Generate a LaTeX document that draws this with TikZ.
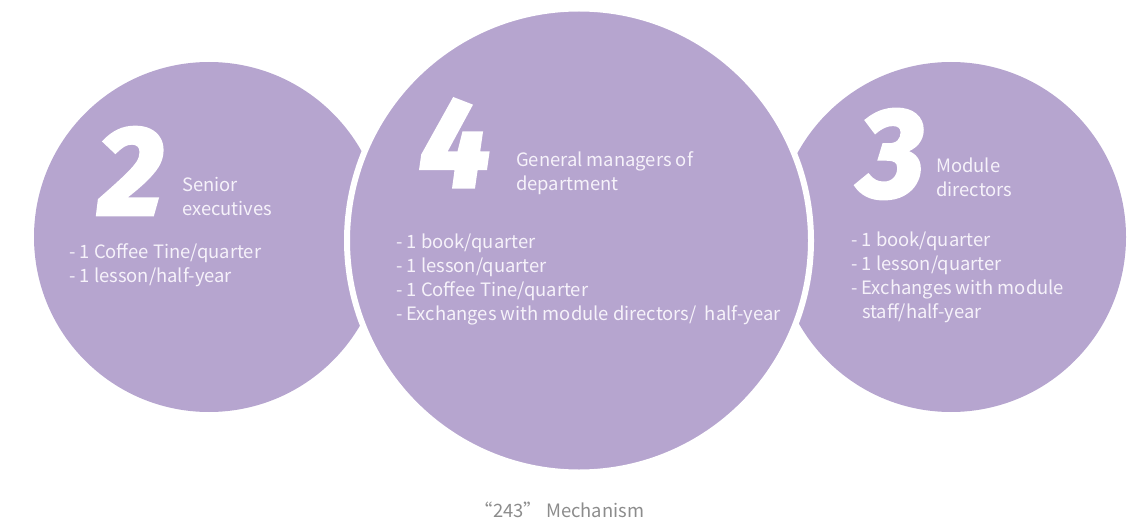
\documentclass[tikz,border=0pt]{standalone}
\usepackage{fontspec}
\setmainfont{Noto Sans CJK SC}
\newfontfamily\numfont{Fira Sans}[BoldItalicFeatures={FakeBold=3}]
\definecolor{lilac}{HTML}{B6A5CF}
\definecolor{softwhite}{HTML}{F6F2FA}
\definecolor{capgray}{HTML}{8C8C8C}

\begin{document}
\begin{tikzpicture}[x=1pt, y=1pt,
    disc/.style={circle, fill=lilac, inner sep=0pt},
    bignum/.style={text=white, font=\numfont\bfseries\itshape\fontsize{126}{126}\selectfont, inner sep=0pt},
    role/.style={text=softwhite, font=\fontsize{18.4}{24}\selectfont, align=left, anchor=west, inner sep=0pt},
    duties/.style={text=softwhite, font=\fontsize{18.4}{24}\selectfont, align=left, anchor=north west, inner sep=0pt}]
    \useasboundingbox (0,0) rectangle (1132,523);

    \node[disc, minimum size=350pt] (seniors) at (209,286) {};
    \node[disc, minimum size=350pt] (directors) at (951,286) {};
    \node[disc, minimum size=464pt, draw=white, line width=6pt] (managers) at (579,282.5) {};

    \node[bignum] (two) at (131,352) {2};
    \node[role] (seniorrole) at (182,327) {Senior\\executives};
    \node[duties] (seniorduty) at (69,280) {- 1 Coffee Tine/quarter\\- 1 lesson/half-year};

    \node[bignum] (four) at (455,380) {4};
    \node[role] (managerrole) at (516,350) {General managers of\\department};
    \node[duties] (managerduty) at (396,289) {- 1 book/quarter\\- 1 lesson/quarter\\- 1 Coffee Tine/quarter\\- Exchanges with module directors/\ \ half-year};

    \node[bignum] (three) at (892,369) {3};
    \node[role] (directorrole) at (936,346) {Module\\directors};
    \node[duties] (directorduty) at (851,291) {- 1 book/quarter\\- 1 lesson/quarter\\- Exchanges with module\\\hspace*{11pt}staff/half-year};

    \node[text=capgray, font=\fontsize{18.4}{18.4}\selectfont] (caption) at (559.5,13) {“243” Mechanism};
\end{tikzpicture}
\end{document}
